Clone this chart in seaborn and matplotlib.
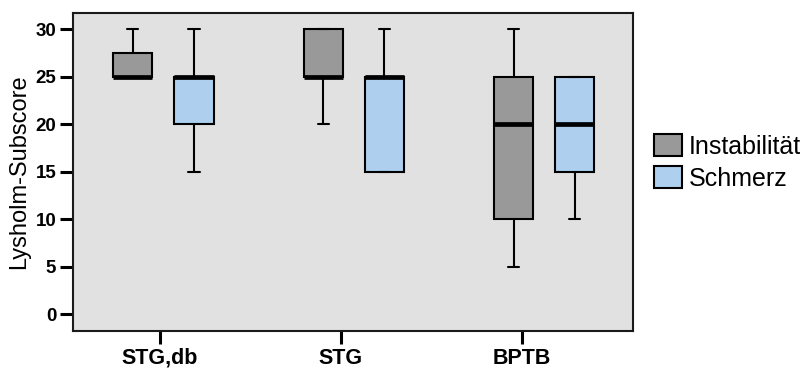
import matplotlib
matplotlib.use("Agg")
import matplotlib.pyplot as plt
import seaborn as sns
import pandas as pd

# Five-number summaries (min, Q1, median, Q3, max) of the Lysholm subscores
groups = ["STG,db", "STG", "BPTB"]
measures = ["Instabilität", "Schmerz"]
instabilitaet = {
    "STG,db": [25, 25, 25, 27.5, 30],
    "STG": [20, 25, 25, 30, 30],
    "BPTB": [5, 10, 20, 25, 30],
}
schmerz = {
    "STG,db": [15, 20, 25, 25, 30],
    "STG": [15, 15, 25, 25, 30],
    "BPTB": [10, 15, 20, 25, 25],
}
y_ticks = [0, 5, 10, 15, 20, 25, 30]

rows = []
for measure, table in zip(measures, [instabilitaet, schmerz]):
    for g in groups:
        for v in table[g]:
            rows.append({"Gruppe": g, "Messung": measure, "Score": v})
df = pd.DataFrame(rows)

sns.set_style("white")
plt.rcParams["font.family"] = ["Liberation Sans", "DejaVu Sans"]
plt.rcParams["text.color"] = "black"
plt.rcParams["axes.labelcolor"] = "black"
plt.rcParams["xtick.color"] = "black"
plt.rcParams["ytick.color"] = "black"

fig = plt.figure(figsize=(8.08, 3.72), dpi=100)
ax = fig.add_axes([73 / 808, 41 / 372, 560 / 808, 318 / 372])
ax.set_facecolor("#e1e1e1")

palette = {"Instabilität": "#999999", "Schmerz": "#aed0ee"}
sns.boxplot(
    data=df, x="Gruppe", y="Score", hue="Messung",
    order=groups, hue_order=measures, palette=palette,
    whis=(0, 100), width=0.645, gap=0.365, saturation=1,
    linecolor="black", linewidth=1.5, showfliers=False,
    medianprops={"linewidth": 3.4, "color": "black"},
    capwidths=0.058, ax=ax,
)

handles, labels = ax.get_legend_handles_labels()
ax.legend_.remove()
fig.legend(
    handles, labels, loc="center left",
    bbox_to_anchor=(654 / 808, (372 - 162.5) / 372),
    frameon=False, fontsize=18, handlelength=1.1, handleheight=0.95,
    handletextpad=0.3, labelspacing=0.3, borderpad=0, borderaxespad=0,
)

ax.set_xlim(-0.474, 2.466)
ax.set_ylim(-1.76, 31.72)
ax.set_xticks([-0.017, 0.933, 1.883])
ax.set_xticklabels(groups, fontsize=15.5, fontweight="bold")
ax.set_yticks(y_ticks)
ax.set_yticklabels([str(t) for t in y_ticks], fontsize=13.5, fontweight="bold")
ax.tick_params(axis="both", direction="out", length=9.5, width=2.2,
               color="black", bottom=True, left=True, labelcolor="black")
ax.tick_params(axis="y", pad=2.5)
ax.tick_params(axis="x", pad=2.5)
ax.set_xlabel("")
ax.set_ylabel("Lysholm-Subscore", fontsize=17, labelpad=4, color="black")

for spine in ax.spines.values():
    spine.set_visible(True)
    spine.set_linewidth(1.5)
    spine.set_color("#1a1a1a")

fig.savefig("out.png", dpi=100)
